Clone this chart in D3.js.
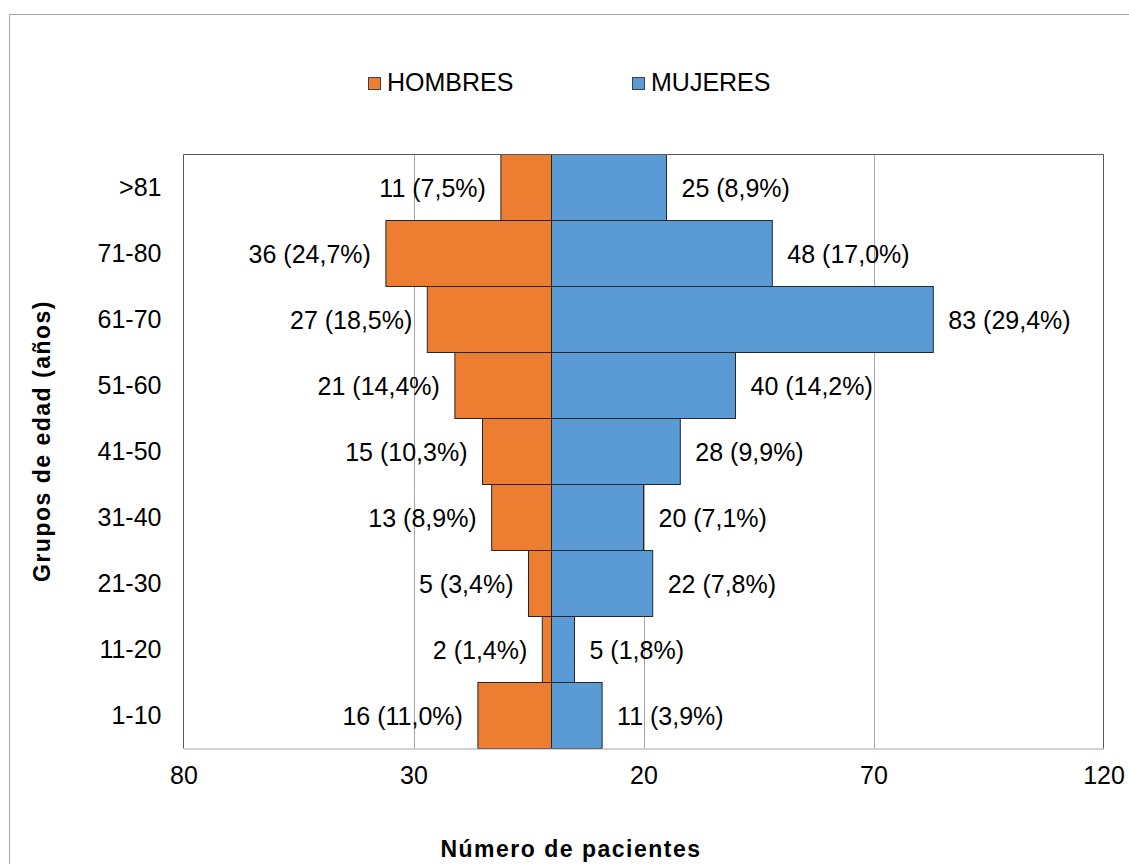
<!DOCTYPE html>
<html>
<head>
<meta charset="utf-8">
<script src="https://cdn.jsdelivr.net/npm/d3@7"></script>
<style>
  html, body { margin: 0; padding: 0; background: #fff; }
  svg { display: block; font-family: "Liberation Sans", Arial, sans-serif; }
</style>
</head>
<body>
<svg id="chart" width="1129" height="864"></svg>
<script>
// Age groups, top to bottom
const grupos = [">81", "71-80", "61-70", "51-60", "41-50", "31-40", "21-30", "11-20", "1-10"];
// Patients per group
const hombres = [11, 36, 27, 21, 15, 13, 5, 2, 16];
const mujeres = [25, 48, 83, 40, 28, 20, 22, 5, 11];
// Share of each sex (%)
const pctHombres = ["7,5", "24,7", "18,5", "14,4", "10,3", "8,9", "3,4", "1,4", "11,0"];
const pctMujeres = ["8,9", "17,0", "29,4", "14,2", "9,9", "7,1", "7,8", "1,8", "3,9"];
// Axis ticks (men on the negative side)
const ticksX = [-80, -30, 20, 70, 120];
const series = ["HOMBRES", "MUJERES"];
const colores = ["#ED7D31", "#5B9BD5"];

const svg = d3.select("#chart");
const plotL = 183.5, plotR = 1103.5, plotT = 154.5, plotB = 748.5;

const x = d3.scaleLinear().domain([-80, 120]).range([plotL, plotR]);
const y = d3.scaleBand().domain(grupos).range([plotT, plotB]).padding(0);

// Outer chart frame
svg.append("path")
  .attr("d", `M9.5,864V14.5H1129`)
  .attr("fill", "none").attr("stroke", "#a6a6a6").attr("stroke-width", 1);

// Vertical gridlines
svg.append("g").selectAll("line")
  .data(ticksX.filter(t => t > -80 && t < 120))
  .join("line")
  .attr("x1", d => Math.round(x(d)) + 0.5).attr("x2", d => Math.round(x(d)) + 0.5)
  .attr("y1", plotT).attr("y2", plotB)
  .attr("stroke", "#a6a6a6").attr("stroke-width", 1);

// Bars
const rows = grupos.map((g, i) => ({ g, h: hombres[i], m: mujeres[i], ph: pctHombres[i], pm: pctMujeres[i] }));
const bars = svg.append("g");
bars.selectAll("rect.h").data(rows).join("rect").attr("class", "h")
  .attr("x", d => x(-d.h)).attr("width", d => x(0) - x(-d.h))
  .attr("y", d => y(d.g)).attr("height", y.bandwidth())
  .attr("fill", colores[0]).attr("stroke", "#262626").attr("stroke-width", 1);
bars.selectAll("rect.m").data(rows).join("rect").attr("class", "m")
  .attr("x", x(0)).attr("width", d => x(d.m) - x(0))
  .attr("y", d => y(d.g)).attr("height", y.bandwidth())
  .attr("fill", colores[1]).attr("stroke", "#262626").attr("stroke-width", 1);

// Plot frame
svg.append("path")
  .attr("d", `M${plotL},${plotB}V${plotT}H${plotR}V${plotB}`)
  .attr("fill", "none").attr("stroke", "#595959").attr("stroke-width", 1);

// X axis
const xAxis = d3.axisBottom(x).tickValues(ticksX).tickFormat(d => Math.abs(d)).tickSize(0).tickPadding(18);
const gx = svg.append("g").attr("transform", `translate(0,${plotB})`).call(xAxis);
gx.select(".domain").attr("stroke", "#a6a6a6");
gx.selectAll("text").attr("font-size", 25).attr("fill", "#000")
  .attr("font-family", "Liberation Sans, Arial, sans-serif");

// Y axis labels
const yAxis = d3.axisLeft(y).tickSize(0).tickPadding(22);
const gy = svg.append("g").attr("transform", `translate(${plotL},0)`).call(yAxis);
gy.select(".domain").remove();
gy.selectAll("text").attr("font-size", 25).attr("fill", "#000")
  .attr("font-family", "Liberation Sans, Arial, sans-serif");

// Value labels
const lab = svg.append("g").attr("font-size", 25).attr("fill", "#000");
lab.selectAll("text.h").data(rows).join("text").attr("class", "h")
  .attr("x", d => x(-d.h) - 15).attr("y", d => y(d.g) + y.bandwidth() / 2 + 9)
  .attr("text-anchor", "end")
  .text(d => `${d.h} (${d.ph}%)`);
lab.selectAll("text.m").data(rows).join("text").attr("class", "m")
  .attr("x", d => x(d.m) + 15).attr("y", d => y(d.g) + y.bandwidth() / 2 + 9)
  .attr("text-anchor", "start")
  .text(d => `${d.m} (${d.pm}%)`);

// Legend
const legX = [368, 632];
const leg = svg.append("g");
series.forEach((s, i) => {
  leg.append("rect").attr("x", legX[i] + 0.5).attr("y", 77.5).attr("width", 12).attr("height", 12)
    .attr("fill", colores[i]).attr("stroke", "#404040").attr("stroke-width", 1);
  leg.append("text").attr("x", legX[i] + 19).attr("y", 91)
    .attr("font-size", 25).attr("fill", "#000").text(s);
});

// Axis titles
svg.append("text").attr("x", 571).attr("y", 857)
  .attr("text-anchor", "middle").attr("font-size", 23).attr("font-weight", "bold")
  .attr("letter-spacing", "1.5px").attr("fill", "#000")
  .text("Número de pacientes");
svg.append("text").attr("transform", "translate(50,441) rotate(-90)")
  .attr("text-anchor", "middle").attr("font-size", 23).attr("font-weight", "bold")
  .attr("letter-spacing", "1.5px").attr("fill", "#000")
  .text("Grupos de edad (años)");
</script>
</body>
</html>
